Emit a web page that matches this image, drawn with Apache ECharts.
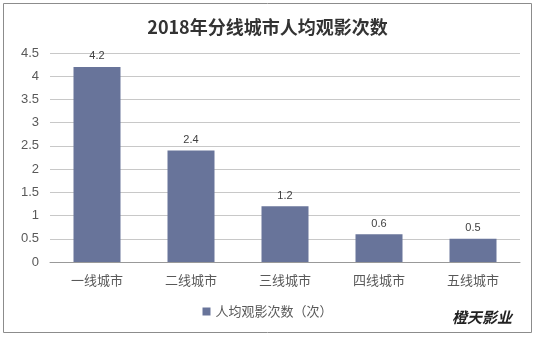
<!DOCTYPE html>
<html><head><meta charset="utf-8">
<script src="https://cdn.jsdelivr.net/npm/echarts@6/dist/echarts.min.js"></script>
<style>html,body{margin:0;padding:0;background:#fff}#c{width:535px;height:337px}</style>
</head><body><div id="c"></div>
<script>
const categories = ['一线城市','二线城市','三线城市','四线城市','五线城市'];
const values = [4.2, 2.4, 1.2, 0.6, 0.5];
const seriesName = '人均观影次数（次）';
const titleText = '2018年分线城市人均观影次数';
const chart = echarts.init(document.getElementById('c'));
chart.setOption({
  animation: false,
  backgroundColor: '#fff',
  title: {text: titleText, left: 'center', top: 13,
    textStyle: {fontSize: 18, fontWeight: 'bold', color: '#333', fontFamily: 'Noto Sans CJK SC'}},
  grid: {left: 50, right: 15, top: 53, bottom: 75},
  legend: {bottom: 14, left: 'center', itemWidth: 8, itemHeight: 8, icon: 'rect',
    textStyle: {fontSize: 13, color: '#595959', fontFamily: 'Noto Sans CJK SC'}, data: [seriesName]},
  xAxis: {type: 'category', data: categories,
    axisLine: {lineStyle: {color: '#999'}}, axisTick: {show: false},
    axisLabel: {fontSize: 13, color: '#595959', margin: 12, fontFamily: 'Noto Sans CJK SC'}},
  yAxis: {type: 'value', min: 0, max: 4.5, interval: 0.5,
    axisLine: {show: false}, axisTick: {show: false},
    splitLine: {lineStyle: {color: '#c8c8c8'}},
    axisLabel: {fontSize: 13, color: '#595959', margin: 11, fontFamily: 'Liberation Sans'}},
  series: [{name: seriesName, type: 'bar', data: values, barWidth: '50%',
    itemStyle: {color: '#68749a'},
    label: {show: true, position: 'top', fontSize: 11, color: '#404040', fontFamily: 'Liberation Sans'}}],
  graphic: [
    {type: 'rect', shape: {x: 3.5, y: 3.5, width: 528, height: 329}, style: {fill: 'none', stroke: '#8c8c8c', lineWidth: 1}, z: 100},
    {type: 'text', left: 452, top: 310, style: {text: '橙天影业', font: 'italic bold 15px "Noto Sans CJK SC"', fill: '#222', letterSpacing: 4}}
  ]
});
</script></body></html>
